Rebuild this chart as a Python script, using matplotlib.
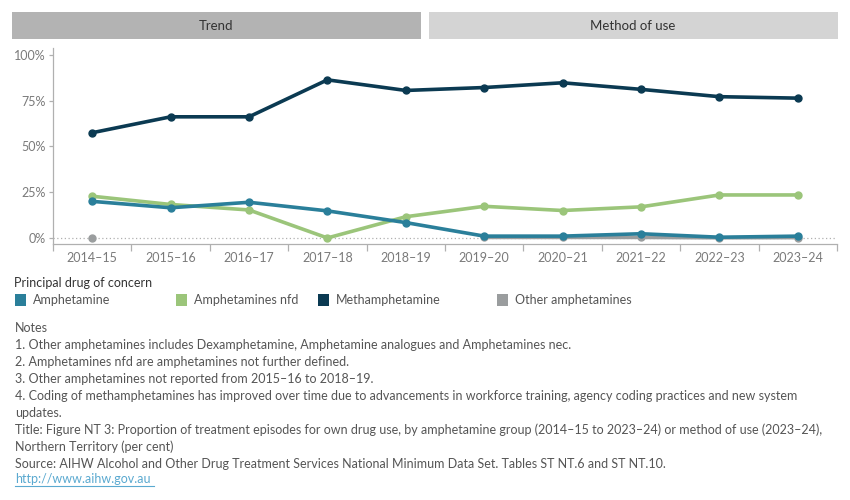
import matplotlib
matplotlib.use("Agg")
import matplotlib.pyplot as plt
import numpy as np
from matplotlib.patches import Rectangle

years = ["2014–15", "2015–16", "2016–17", "2017–18", "2018–19",
         "2019–20", "2020–21", "2021–22", "2022–23", "2023–24"]
amphetamine = [20, 16.5, 19.5, 14.8, 8.4, 1.0, 1.0, 2.3, 0.4, 1.0]
amph_nfd = [22.8, 18.3, 15.3, 0.0, 11.6, 17.3, 15.0, 17.0, 23.5, 23.5]
methamphetamine = [57.5, 66.2, 66.2, 86.4, 80.6, 82.2, 84.8, 81.2, 77.2, 76.4]
other_amph = [0.0, np.nan, np.nan, np.nan, np.nan, 0.3, 0.3, 0.3, 0.1, 0.2]
yticks = [0, 25, 50, 75, 100]
ytick_labels = ["0%", "25%", "50%", "75%", "100%"]

series_names = ["Amphetamine", "Amphetamines nfd", "Methamphetamine", "Other amphetamines"]
colors = ["#2a7f9a", "#9bc57a", "#0b3a52", "#9a9d9e"]

FONT = ["Lato", "DejaVu Sans"]
plt.rcParams["font.family"] = FONT

W, H = 850, 500
fig = plt.figure(figsize=(W / 100, H / 100), dpi=100)

def fx(px):
    return px / W

def fy(py):
    return 1 - py / H

# header bars
hdr = fig.add_axes([0, 0, 1, 1], zorder=-1)
hdr.set_xlim(0, W)
hdr.set_ylim(H, 0)
hdr.axis("off")
hdr.add_patch(Rectangle((12, 12), 409, 27, color="#b3b3b3", lw=0))
hdr.add_patch(Rectangle((429, 12), 409, 27, color="#d4d4d4", lw=0))
hdr.text(216, 26, "Trend", ha="center", va="center", fontsize=9.5, color="#333333")
hdr.text(633, 26, "Method of use", ha="center", va="center", fontsize=9.5, color="#333333")

# main axes: x from 53 to 837 px, y from 48 to 244 px
ax = fig.add_axes([fx(53), fy(244), fx(837 - 53), (244 - 48) / H])
x = np.arange(len(years))
ax.set_xlim(-0.5, len(years) - 0.5)
ax.set_ylim(-3.3, 103.8)

ax.axhline(0, color="#b0b0b0", lw=0.9, ls=(0, (1, 2)), zorder=1)

for vals, c, z in [(other_amph, colors[3], 2), (amph_nfd, colors[1], 3),
                   (amphetamine, colors[0], 4), (methamphetamine, colors[2], 5)]:
    ax.plot(x, vals, color=c, lw=2.6, marker="o", ms=5, zorder=z,
            solid_capstyle="round", solid_joinstyle="round")

for s in ["top", "right"]:
    ax.spines[s].set_visible(False)
for s in ["left", "bottom"]:
    ax.spines[s].set_color("#b0b0b0")
    ax.spines[s].set_linewidth(0.9)

ax.set_yticks(yticks)
ax.set_yticklabels(ytick_labels)
ax.set_xticks(x)
ax.set_xticklabels(years)
ax.set_xticks(np.arange(-0.5, len(years)), minor=True)
ax.tick_params(axis="x", which="major", length=0, pad=6, labelsize=9, labelcolor="#7a7a7a")
ax.tick_params(axis="x", which="minor", length=5, color="#b0b0b0", width=0.9)
ax.tick_params(axis="y", length=3, color="#b0b0b0", width=0.9, labelsize=9,
               labelcolor="#7a7a7a", pad=2)

# legend
hdr.text(14, 283, "Principal drug of concern", fontsize=9, color="#333333", va="center")
leg_sq_x = [15, 176, 318, 497]
for lx, name, c in zip(leg_sq_x, series_names, colors):
    hdr.add_patch(Rectangle((lx, 294), 11, 12, color=c, lw=0))
    hdr.text(lx + 18, 300.5, name, fontsize=9, color="#555555", va="center")

notes = [
    "Notes",
    "1. Other amphetamines includes Dexamphetamine, Amphetamine analogues and Amphetamines nec.",
    "2. Amphetamines nfd are amphetamines not further defined.",
    "3. Other amphetamines not reported from 2015–16 to 2018–19.",
    "4. Coding of methamphetamines has improved over time due to advancements in workforce training, agency coding practices and new system",
    "updates.",
    "Title: Figure NT 3: Proportion of treatment episodes for own drug use, by amphetamine group (2014–15 to 2023–24) or method of use (2023–24),",
    "Northern Territory (per cent)",
    "Source: AIHW Alcohol and Other Drug Treatment Services National Minimum Data Set. Tables ST NT.6 and ST NT.10.",
]
y0 = 328
for i, line in enumerate(notes):
    hdr.text(15, y0 + i * 17, line, fontsize=9, color="#555555", va="center")
link_y = y0 + len(notes) * 17 - 2
t = hdr.text(15, link_y, "http://www.aihw.gov.au", fontsize=9, color="#5aa9d0", va="center")
hdr.plot([15, 154], [link_y + 7, link_y + 7], color="#5aa9d0", lw=0.8)

fig.savefig("out.png", dpi=100)
